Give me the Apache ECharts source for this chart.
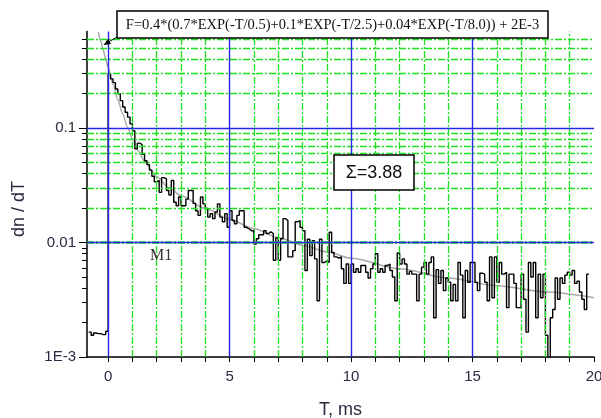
<!DOCTYPE html>
<html>
<head>
<meta charset="utf-8">
<script src="https://cdn.jsdelivr.net/npm/echarts@6/dist/echarts.min.js"></script>
<style>
html, body { margin: 0; padding: 0; background: #fff; }
#main { width: 601px; height: 418px; }
</style>
</head>
<body>
<div id="main"></div>
<script>
// histogram of dn/dT, 0.1 ms bins, first bin starts at -0.8 ms
var binStart = -0.8;
var binWidth = 0.1;
var counts = [
  0.00165, 0.00155, 0.00162, 0.0016, 0.0016, 0.00157, 0.00157, 0.00168,
  0.30, 0.27, 0.25, 0.22, 0.20, 0.174, 0.153, 0.138, 0.125, 0.109,
  0.095, 0.066, 0.074, 0.072, 0.059, 0.052, 0.048, 0.043, 0.038, 0.034,
  0.035, 0.0275, 0.037, 0.036, 0.0285, 0.026, 0.035, 0.0225, 0.021, 0.025,
  0.021, 0.021, 0.024, 0.0285, 0.0285, 0.022, 0.019, 0.0173, 0.025, 0.0218,
  0.0199, 0.0167, 0.0179, 0.0162, 0.0185, 0.0218, 0.0167, 0.0152, 0.0179, 0.0136,
  0.019, 0.0156, 0.0146, 0.0173, 0.019, 0.019, 0.0136, 0.0132, 0.0127, 0.0127,
  0.0097, 0.0108, 0.0117, 0.0117, 0.0127, 0.012, 0.0124, 0.012, 0.007, 0.011,
  0.007, 0.0108, 0.0162, 0.0156, 0.0075, 0.0075, 0.0085, 0.0152, 0.0156, 0.0136,
  0.0127, 0.0057, 0.0107, 0.0077, 0.0104, 0.0072, 0.0031, 0.0107, 0.0067, 0.0069,
  0.0067, 0.0123, 0.0082, 0.0075, 0.0073, 0.0075, 0.0059, 0.0044, 0.0065, 0.0044,
  0.0065, 0.0055, 0.0059, 0.0055, 0.0063, 0.0063, 0.0055, 0.0049, 0.0059, 0.0065,
  0.0080, 0.0055, 0.0059, 0.0055, 0.0063, 0.0065, 0.0057, 0.005, 0.0031, 0.0081,
  0.0065, 0.0072, 0.0065, 0.0053, 0.0056, 0.0053, 0.0053, 0.0031, 0.0053, 0.0061,
  0.0067, 0.0053, 0.0067, 0.0075, 0.0022, 0.0058, 0.0044, 0.0057, 0.0038, 0.0049,
  0.0045, 0.0031, 0.0043, 0.0031, 0.0067, 0.0052, 0.0022, 0.0057, 0.0045, 0.0067,
  0.0067, 0.0045, 0.0038, 0.0054, 0.0053, 0.0045, 0.0031, 0.0075, 0.0033, 0.0075,
  0.0045, 0.0067, 0.0053, 0.0055, 0.0027, 0.0053, 0.0053, 0.0044, 0.0027, 0.0027,
  0.0053, 0.0032, 0.00165, 0.0067, 0.005, 0.0067, 0.0022, 0.0053, 0.0033, 0.0053,
  0.00155, 0.0009, 0.0022, 0.0026, 0.0049, 0.0032, 0.0049, 0.0044, 0.0052, 0.0055,
  0.0052, 0.0057, 0.0044, 0.0046, 0.0037, 0.0032, 0.0026, 0.0053
];

// grey fit line
var fitT = [-0.4, -0.3, -0.2, -0.1, 0, 0.2, 0.4, 0.6, 0.8, 1, 1.25, 1.5, 2, 2.5, 3, 4, 5, 6, 7, 8, 9, 10, 12, 14, 16, 18, 20];
var fitF = [0.69, 0.574, 0.479, 0.402, 0.338, 0.242, 0.177, 0.133, 0.102, 0.0808, 0.063, 0.0512, 0.0376, 0.0303, 0.0257, 0.0199, 0.016, 0.0132, 0.0111, 0.0095, 0.0083, 0.0073, 0.0059, 0.0049, 0.0042, 0.0037, 0.0033];

// axes and grid
var xTicks = [0, 1, 2, 3, 4, 5, 6, 7, 8, 9, 10, 11, 12, 13, 14, 15, 16, 17, 18, 19, 20];
var xLabels = [0, 5, 10, 15, 20];
var xMajorGrid = [0, 5, 10, 15];
var xMinorGrid = [1, 2, 3, 4, 6, 7, 8, 9, 11, 12, 13, 14, 16, 17, 18, 19];
var yMajor = [0.001, 0.01, 0.1];
var yLabels = ['1E-3', '0.01', '0.1'];
var yMinorGrid = [0.002, 0.003, 0.004, 0.005, 0.006, 0.007, 0.008, 0.009,
                  0.02, 0.03, 0.04, 0.05, 0.06, 0.07, 0.08, 0.09,
                  0.2, 0.3, 0.4, 0.5, 0.6];
var yMinorTicks = yMinorGrid.concat(yMajor);

var histData = [];
for (var i = 0; i < counts.length; i++) {
  histData.push([+(binStart + i * binWidth).toFixed(2), counts[i]]);
}
histData.push([+(binStart + counts.length * binWidth).toFixed(2), counts[counts.length - 1]]);

var fitData = fitT.map(function (t, k) { return [t, fitF[k]]; });

var green = '#1fe01f';
var blue = '#2626e6';
var txt = '#2a2a40';

var greenLines = [];
xMinorGrid.forEach(function (v) { greenLines.push({ xAxis: v }); });
yMinorGrid.forEach(function (v) { greenLines.push({ yAxis: v }); });
var blueLines = [];
xMajorGrid.forEach(function (v) { blueLines.push({ xAxis: v }); });
blueLines.push({ yAxis: 0.1 });
blueLines.push({ yAxis: 0.01 });

var myChart = echarts.init(document.getElementById('main'), null, { renderer: 'canvas' });
var option = {
  animation: false,
  backgroundColor: '#fff',
  grid: { left: 87, right: 7, top: 31.5, bottom: 61, outerBoundsMode: 'none' },
  xAxis: {
    type: 'value', min: -0.87, max: 20,
    axisLine: { onZero: false, lineStyle: { color: '#000', width: 1.5 } },
    axisTick: { customValues: xTicks, length: 5, lineStyle: { color: '#000' } },
    axisLabel: { customValues: xLabels, margin: 12, fontSize: 15, color: txt, fontFamily: 'Liberation Sans' },
    splitLine: { show: false },
    name: 'T, ms', nameLocation: 'middle', nameGap: 44,
    nameTextStyle: { fontSize: 18, color: txt, fontFamily: 'Liberation Sans' }
  },
  yAxis: [{
    type: 'log', logBase: 10, min: 0.001, max: 0.7,
    axisLine: { onZero: false, lineStyle: { color: '#000', width: 1.5 } },
    axisTick: { customValues: yMinorTicks, length: 5, lineStyle: { color: '#000' } },
    axisLabel: {
      customValues: yMajor, margin: 11, fontSize: 15, color: txt, fontFamily: 'Liberation Sans',
      formatter: function (v) {
        for (var k = 0; k < yMajor.length; k++) {
          if (Math.abs(Math.log10(yMajor[k] / v)) < 0.01) return yLabels[k];
        }
        return '';
      }
    },
    splitLine: { show: false }
  }, {
    type: 'log', logBase: 10, min: 0.001, max: 0.7, position: 'left',
    axisLine: { show: false, onZero: false },
    axisTick: { customValues: yMajor, length: 8, lineStyle: { color: '#000' } },
    axisLabel: { show: false },
    splitLine: { show: false }
  }],
  series: [{
    type: 'line', data: [], silent: true, z: 1,
    markLine: {
      silent: true, symbol: ['none', 'none'], label: { show: false }, animation: false,
      lineStyle: { color: green, width: 1.3, type: [7, 2, 2, 2] },
      data: greenLines
    }
  }, {
    type: 'line', data: [], silent: true, z: 2,
    markLine: {
      silent: true, symbol: ['none', 'none'], label: { show: false }, animation: false,
      lineStyle: { color: blue, width: 1.4, type: 'solid' },
      data: blueLines
    }
  }, {
    name: 'fit', type: 'line', data: fitData, smooth: 0.3, smoothMonotone: 'x',
    showSymbol: false, z: 3, clip: true,
    lineStyle: { color: '#a8a8a8', width: 1.5 }
  }, {
    name: 'dn/dT', type: 'line', data: histData, step: 'end',
    showSymbol: false, z: 4, clip: true,
    lineStyle: { color: '#000', width: 1.4 }
  }],
  graphic: [
    { type: 'text', x: 19, y: 209, rotation: Math.PI / 2, z: 11,
      style: { text: 'dn / dT', font: '18px "Liberation Sans"', fill: txt, textAlign: 'center', textVerticalAlign: 'middle' } },
    { type: 'rect', shape: { x: 117, y: 11, width: 431, height: 27 },
      style: { fill: '#fff', stroke: '#000', lineWidth: 1.5 }, z: 10 },
    { type: 'text', x: 332.5, y: 25, z: 11,
      style: { text: 'F=0.4*(0.7*EXP(-T/0.5)+0.1*EXP(-T/2.5)+0.04*EXP(-T/8.0)) + 2E-3',
        font: '14.5px "Liberation Serif"', fill: '#111', textAlign: 'center', textVerticalAlign: 'middle' } },
    { type: 'line', shape: { x1: 117, y1: 37, x2: 106, y2: 43.5 }, z: 11,
      style: { stroke: '#000', lineWidth: 1 } },
    { type: 'polygon', shape: { points: [[103.5, 45], [111, 44], [108, 38.8]] }, z: 11,
      style: { fill: '#000' } },
    { type: 'rect', shape: { x: 334, y: 155, width: 80, height: 35 },
      style: { fill: '#fff', stroke: '#000', lineWidth: 1.5 }, z: 10 },
    { type: 'text', x: 374, y: 173, z: 11,
      style: { text: 'Σ=3.88', font: '18px "Liberation Sans"', fill: '#111', textAlign: 'center', textVerticalAlign: 'middle' } },
    { type: 'text', x: 150, y: 256, z: 11,
      style: { text: 'M1', font: '16px "Liberation Serif"', fill: '#3a3030', textAlign: 'left', textVerticalAlign: 'middle' } }
  ]
};
myChart.setOption(option);
</script>
</body>
</html>
